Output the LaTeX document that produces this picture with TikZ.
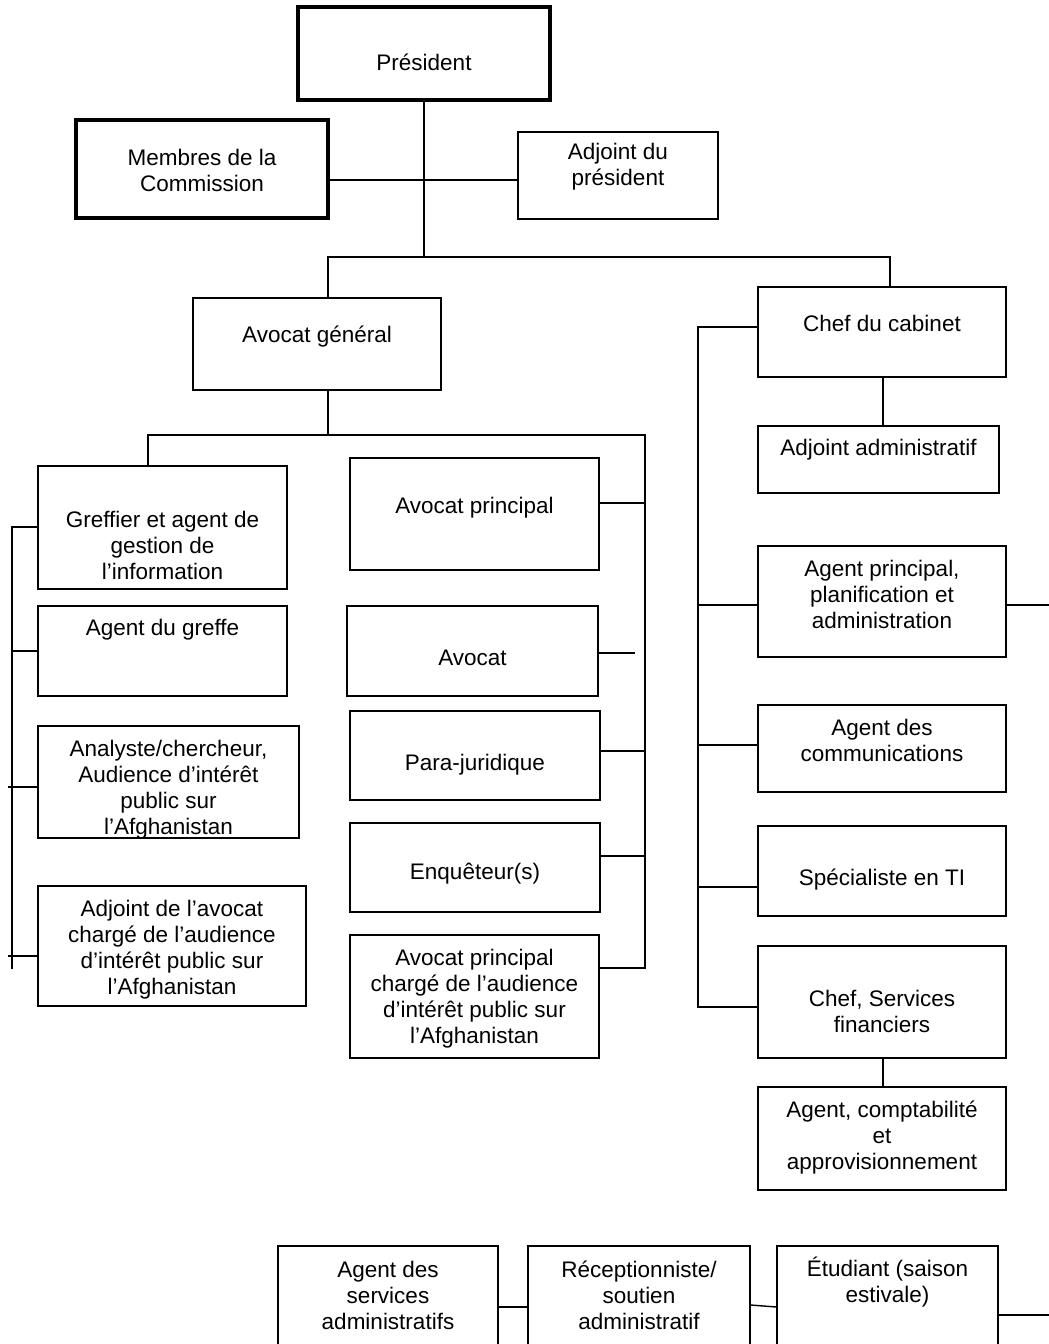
\documentclass[tikz,border=0pt]{standalone}
\usepackage{fontspec}
\setmainfont{Liberation Sans}
\usetikzlibrary{fit,calc}

\tikzset{
  box/.style={draw,rectangle,line width=1pt,inner sep=0pt},
  bigbox/.style={box,line width=3pt},
  lbl/.style={align=center,inner sep=0pt,font=\fontsize{16}{18.5}\selectfont},
  conn/.style={line width=1pt},
}

\begin{document}
\begin{tikzpicture}[x=0.025cm,y=-0.025cm]

\clip (0,0) rectangle (1049,1344);

% top of the chart
\node[bigbox,fit={(298,7) (550,100)}] (pres) {};
\node[bigbox,fit={(76,120) (328,218)}] (memb) {};
\node[box,fit={(518,132) (718,219)}] (adjp) {};
\node[box,fit={(193,298) (441,390)}] (avg) {};
\node[box,fit={(758,287) (1006,377)}] (cab) {};

% avocat general, left column
\node[box,fit={(38,466) (287,589)}] (gref) {};
\node[box,fit={(38,606) (287,696)}] (agr) {};
\node[box,fit={(38,726) (299,838)}] (ana) {};
\node[box,fit={(38,886) (306,1006)}] (ajav) {};

% avocat general, middle column
\node[box,fit={(350,458) (599,570)}] (ap) {};
\node[box,fit={(347,606) (598,696)}] (avo) {};
\node[box,fit={(350,711) (600,800)}] (para) {};
\node[box,fit={(350,823) (600,912)}] (enq) {};
\node[box,fit={(350,935) (599,1058)}] (apc) {};

% chef du cabinet
\node[box,fit={(758,426) (999,493)}] (adm) {};
\node[box,fit={(758,546) (1006,657)}] (agp) {};
\node[box,fit={(758,705) (1006,792)}] (com) {};
\node[box,fit={(758,826) (1006,916)}] (spe) {};
\node[box,fit={(758,946) (1006,1058)}] (csf) {};
\node[box,fit={(758,1087) (1006,1190)}] (acp) {};

% bottom row
\node[box,fit={(278,1246) (498,1370)}] (asv) {};
\node[box,fit={(528,1246) (750,1370)}] (rec) {};
\node[box,fit={(777,1246) (998,1370)}] (etu) {};

% labels
\node[lbl] at (pres.center |- 0,62) {Président};
\node[lbl] at (memb.center |- 0,170) {Membres de la\\Commission};
\node[lbl] at (adjp.center |- 0,166.5) {Adjoint du\\président};
\node[lbl] at (avg.center |- 0,337) {Avocat général};
\node[lbl] at (cab.center |- 0,323) {Chef du cabinet};

\node[lbl] at (gref.center |- 0,545.5) {Greffier et agent de\\gestion de\\l’information};
\node[lbl] at (agr.center |- 0,630) {Agent du greffe};
\node[lbl] at (ana.center |- 0,790) {Analyste/chercheur,\\Audience d’intérêt\\public sur\\l’Afghanistan};
\node[lbl] at (ajav.center |- 0,949.5) {Adjoint de l’avocat\\chargé de l’audience\\d’intérêt public sur\\l’Afghanistan};

\node[lbl] at (ap.center |- 0,508) {Avocat principal};
\node[lbl] at (avo.center |- 0,658) {Avocat};
\node[lbl] at (para.center |- 0,765) {Para-juridique};
\node[lbl] at (enq.center |- 0,874) {Enquêteur(s)};
\node[lbl] at (apc.center |- 0,998.5) {Avocat principal\\chargé de l’audience\\d’intérêt public sur\\l’Afghanistan};

\node[lbl] at (adm.center |- 0,450) {Adjoint administratif};
\node[lbl] at (agp.center |- 0,594) {Agent principal,\\planification et\\administration};
\node[lbl] at (com.center |- 0,740.5) {Agent des\\communications};
\node[lbl] at (spe.center |- 0,880) {Spécialiste en TI};
\node[lbl] at (csf.center |- 0,1011.5) {Chef, Services\\financiers};
\node[lbl] at (acp.center |- 0,1137.5) {Agent, comptabilité\\et\\approvisionnement};

\node[lbl] at (asv.center |- 0,1295) {Agent des\\services\\administratifs};
\node[lbl] at (rec.center |- 0,1295) {Réceptionniste/\\soutien\\administratif};
\node[lbl] at (etu.center |- 0,1282.5) {Étudiant (saison\\estivale)};

% junctions and free ends
\coordinate (j1) at (424,257);
\coordinate (j2) at (328,435);
\coordinate (mbus) at (645,968);
\coordinate (lbus) at (12,969);
\coordinate (lstub) at (8,0);
\coordinate (rbus) at (698,1007);
\coordinate (avoend) at (635,653);
\coordinate (edgeA) at (1049,605);
\coordinate (edgeB) at (1049,1315);

% connectors
\draw[conn] (pres.south) -- (j1);
\draw[conn] (memb.east |- 0,180) -- (adjp.west |- 0,180);
\draw[conn] (avg.north -| j2) |- (j1) -| (cab.north -| 890,0);

\draw[conn] (avg.south -| j2) -- (j2);
\draw[conn] (gref.north -| 148,0) |- (j2) -| (mbus) -- (apc.east |- mbus);
\foreach \n/\y in {ap/503,para/751,enq/856}
  \draw[conn] (\n.east |- 0,\y) -- (mbus |- 0,\y);
\draw[conn] (avo.east |- avoend) -- (avoend);

\draw[conn] (gref.west |- 0,527) -| (lbus);
\draw[conn] (agr.west |- 0,651) -- (lbus |- 0,651);
\draw[conn] (ana.west |- 0,787) -- (lstub |- 0,787);
\draw[conn] (ajav.west |- 0,956) -- (lstub |- 0,956);

\draw[conn] (cab.west |- 0,327) -| (rbus) -- (csf.west |- rbus);
\foreach \n/\y in {agp/605,com/745,spe/887}
  \draw[conn] (\n.west |- 0,\y) -- (rbus |- 0,\y);
\draw[conn] (cab.south -| 883,0) -- (adm.north -| 883,0);
\draw[conn] (csf.south -| 883,0) -- (acp.north -| 883,0);
\draw[conn] (agp.east |- edgeA) -- (edgeA);

\draw[conn] (asv.east |- 0,1307) -- (rec.west |- 0,1307);
\draw[conn] (rec.east |- 0,1305) -- (etu.west |- 0,1307);
\draw[conn] (etu.east |- edgeB) -- (edgeB);

\end{tikzpicture}
\end{document}
